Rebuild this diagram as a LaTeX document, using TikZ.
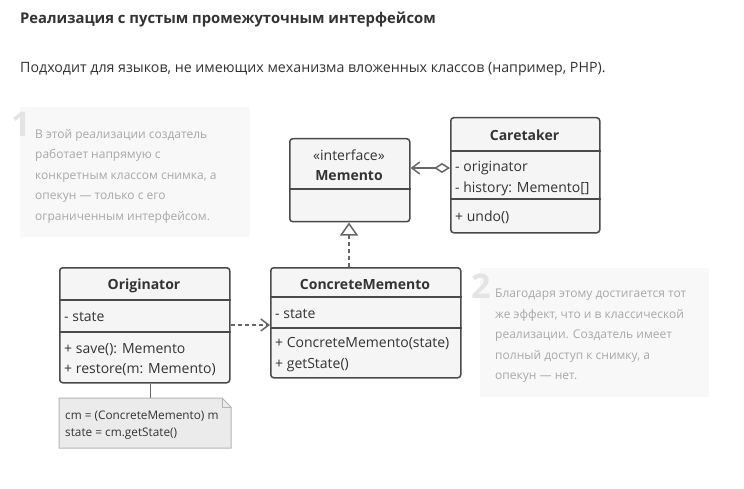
\documentclass[tikz,border=0pt]{standalone}
\usepackage{fontspec}
\setmainfont{Open Sans}
\newfontfamily\os{Open Sans}
\usetikzlibrary{arrows.meta}
\definecolor{boxfill}{HTML}{F5F5F5}
\definecolor{boxline}{HTML}{4A4A4A}
\definecolor{txt}{HTML}{333333}
\definecolor{conn}{HTML}{666666}
\definecolor{notebg}{HTML}{F8F8F8}
\definecolor{numcol}{HTML}{E4E4E4}
\definecolor{notetxt}{HTML}{A8A8A8}
\definecolor{codebg}{HTML}{EBEBEB}
\definecolor{codeline}{HTML}{B4B4B4}
\tikzset{
  cls/.style={draw=boxline, fill=boxfill, line width=1.5pt, rounded corners=3pt, inner sep=0pt},
  clsdiv/.style={draw=boxline, line width=1.5pt},
  ttl/.style={font=\os\bfseries\fontsize{14}{16}\selectfont, text=txt, inner sep=0pt, anchor=mid, yshift=-3pt},
  attr/.style={font=\os\fontsize{14}{16}\selectfont, text=txt, inner sep=0pt, anchor=mid west, yshift=-3pt},
  notebox/.style={fill=notebg, inner sep=0pt, anchor=north west},
  num/.style={font=\os\bfseries\fontsize{34}{34}\selectfont, text=numcol, inner sep=0pt, anchor=base west},
  notetext/.style={font=\os\fontsize{12}{20.5}\selectfont, text=notetxt, inner sep=0pt, align=left, anchor=north west},
  codetext/.style={font=\os\fontsize{11.8}{17}\selectfont, text=txt, inner sep=0pt, anchor=mid west, yshift=-2pt},
  conline/.style={draw=conn, line width=1.5pt},
  dashline/.style={draw=conn, line width=1.5pt, dash pattern=on 4pt off 3pt},
}
\begin{document}
\begin{tikzpicture}[x=1pt,y=-1pt]
\useasboundingbox[fill=white] (0,0) rectangle (744,489);

% header
\node[font=\bfseries\fontsize{14.8}{18}\selectfont, text=txt, inner sep=0pt, anchor=base west] (title) at (20,24) {Реализация с пустым промежуточным интерфейсом};
\node[font=\fontsize{14.2}{17}\selectfont, text=txt, inner sep=0pt, anchor=base west] (sub) at (20,72.5) {Подходит для языков, не имеющих механизма вложенных классов (например, PHP).};

% note 1
\node[notebox, minimum width=230pt, minimum height=130pt] (n1) at (20,107) {};
\node[num] (n1num) at (11,137) {1};
\node[notetext] (n1txt) at (35,129) {В этой реализации создатель\\работает напрямую с\\конкретным классом снимка, а\\опекун — только с его\\ограниченным интерфейсом.};

% note 2
\node[notebox, minimum width=229pt, minimum height=129pt] (n2) at (480,268) {};
\node[num] (n2num) at (471,298) {2};
\node[notetext] (n2txt) at (495,289) {Благодаря этому достигается тот\\же эффект, что и в классической\\реализации. Создатель имеет\\полный доступ к снимку, а\\опекун — нет.};

% Memento
\node[cls, minimum width=120pt, minimum height=83pt, anchor=north west] (mem) at (289,138) {};
\draw[clsdiv] (mem.west |- 0,189) -- (mem.east |- 0,189);
\node[attr, anchor=mid] (memst) at (349,155) {«interface»};
\node[ttl] (memt) at (349,175) {Memento};

% Caretaker
\node[cls, minimum width=149pt, minimum height=115pt, anchor=north west] (care) at (450,117) {};
\draw[clsdiv] (care.west |- 0,151) -- (care.east |- 0,151);
\draw[clsdiv] (care.west |- 0,199) -- (care.east |- 0,199);
\node[ttl] (caret) at (524.5,135) {Caretaker};
\node[attr] (carea1) at (455,166) {- originator};
\node[attr] (carea2) at (455,187) {- history: Memento[]};
\node[attr] (carem1) at (455,216) {+ undo()};

% Originator
\node[cls, minimum width=170pt, minimum height=115pt, anchor=north west] (orig) at (59,267) {};
\draw[clsdiv] (orig.west |- 0,300) -- (orig.east |- 0,300);
\draw[clsdiv] (orig.west |- 0,332) -- (orig.east |- 0,332);
\node[ttl] (origt) at (144,284) {Originator};
\node[attr] (origa1) at (64,316) {- state};
\node[attr] (origm1) at (64,348) {+ save(): Memento};
\node[attr] (origm2) at (64,368) {+ restore(m: Memento)};

% ConcreteMemento
\node[cls, minimum width=190pt, minimum height=110pt, anchor=north west] (cm) at (270,267) {};
\draw[clsdiv] (cm.west |- 0,297) -- (cm.east |- 0,297);
\draw[clsdiv] (cm.west |- 0,328) -- (cm.east |- 0,328);
\node[ttl] (cmt) at (365,284) {ConcreteMemento};
\node[attr] (cma1) at (275,313) {- state};
\node[attr] (cmm1) at (275,342) {+ ConcreteMemento(state)};
\node[attr] (cmm2) at (275,363) {+ getState()};

% code note
\draw[draw=codeline, fill=codebg, line width=1pt] (59,398) -- (222,398) -- (231,407) -- (231,448) -- (59,448) -- cycle;
\draw[draw=codeline, line width=1pt] (222,398) -- (222,407) -- (231,407);
\node[inner sep=0pt, minimum width=172pt, minimum height=50pt, anchor=north west] (code) at (59,398) {};
\node[codetext] (code1) at (65,415) {cm = (ConcreteMemento) m};
\node[codetext] (code2) at (65,432) {state = cm.getState()};

% connectors
\draw[conline, {Diamond[open, length=16pt, width=10pt, line width=1.5pt]}-{Straight Barb[length=8pt, width=12pt, line width=1.5pt]}] (care.west |- 0,168) -- (mem.east |- 0,168);
\draw[dashline, -{Triangle[open, length=13pt, width=18pt, fill=white, line width=1.5pt]}] (cm.north -| 349,0) -- (mem.south -| 349,0);
\draw[dashline, -{Straight Barb[length=8pt, width=12pt, line width=1.5pt]}] (orig.east |- 0,325) -- (cm.west |- 0,325);
\draw[draw=conn, line width=1pt] (orig.south -| 150,0) -- (code.north -| 150,0);
\end{tikzpicture}
\end{document}
